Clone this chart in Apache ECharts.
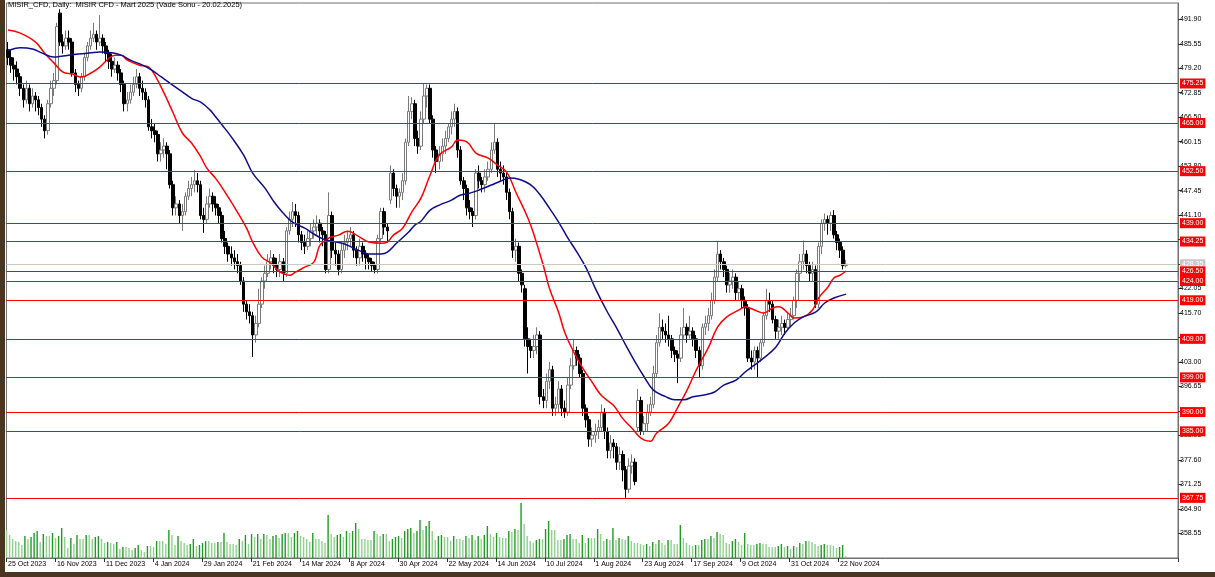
<!DOCTYPE html>
<html>
<head>
<meta charset="utf-8">
<script src="https://cdn.jsdelivr.net/npm/echarts@6/dist/echarts.min.js"></script>
<style>
  html, body { margin: 0; padding: 0; width: 1215px; height: 577px; overflow: hidden; background: #4a3520; }
  #chart { position: absolute; left: 5px; top: 0; width: 1210px; height: 572px; background: #fff; }
</style>
</head>
<body>
<div id="chart"></div>
<script>
// --- data (daily bars 25 Oct 2023 .. 26 Nov 2024)
const titleText = 'MISIR_CFD, Daily:  MISIR CFD - Mart 2025 (Vade Sonu - 20.02.2025)';

const dateTicks = ['25 Oct 2023', '16 Nov 2023', '11 Dec 2023', '4 Jan 2024', '29 Jan 2024', '21 Feb 2024',
  '14 Mar 2024', '8 Apr 2024', '30 Apr 2024', '22 May 2024', '14 Jun 2024', '10 Jul 2024', '1 Aug 2024',
  '23 Aug 2024', '17 Sep 2024', '9 Oct 2024', '31 Oct 2024', '22 Nov 2024'];
const barsPerTick = 16;

const priceTicks = [491.90, 485.55, 479.20, 472.85, 466.50, 460.15, 453.80, 447.45, 441.10, 434.75, 428.40,
  422.05, 415.70, 409.35, 403.00, 396.65, 390.30, 383.95, 377.60, 371.25, 364.90, 358.55];

const levels = [475.25, 465.00, 452.50, 439.00, 434.25, 426.50, 424.00, 419.00, 409.00, 399.00, 390.00, 385.00, 367.75];
const lastPrice = 428.35;

const opens = [
  484,482,480,479,477,474,471,474,470,472, 471,469,466,463,470,474,476,493.5,486,485,
  487,486,478,475,474,477,482,485,487,488, 486,487,485,483,481,479,480,478,475,470,
  471,473,475,477,474,473,471,464,463,462, 457,458,459,457,449,443,444,441,442,446,
  448,449,450,449,441,440,444,446,444,443, 441,435,433,431,430,429,428,424,418,416,
  415,410,413,418,424,426,429,430,428,427, 429,426,437,440,442,441,436,434,433,435,
  437,438,439,437,436,427,441,432,431,427, 432,434,435,436,432,430,433,431,430,429,
  428,427,435,442,438,445,452,448,446,447, 450,460,468,470,461,459,466,472,474,466,
  458,455,457,459,461,464,466,468,458,450, 448,443,442,441,452,450,449,451,453,458,
  460,453,452,451,447,442,432,433,426,422, 409,407,406,407,410,394,393,398,401,391,
  392,396,391,390,397,402,406,404,400,391, 388,383,384,385,386,390,385,380,382,381,
  377,379,375,370,376,377,386,393,385,387, 390,392,400,408,412,411,410,409,406,405,
  404,410,412,410,411,409,406,402,412,413, 415,419,425,431,429,427,423,424,425,421,
  422,419,417,404,403,406,404,408,415,419, 418,414,411,412,413,412,414,415,419,426,
  429,431,428,426,427,418,433,439,440,439, 441,436,434,432,428
];
const closes = [
  482,480,479,477,474,471,474,470,472,471, 469,466,463,470,474,476,490,486,485,487,
  486,478,475,474,477,482,485,487,488,486, 487,485,483,481,479,480,478,475,470,471,
  473,475,477,474,473,471,464,463,462,457, 458,459,457,449,443,444,441,442,446,448,
  449,450,449,441,440,444,446,444,443,441, 435,433,431,430,429,428,424,418,416,415,
  410,413,418,424,426,429,430,428,427,429, 426,437,440,442,441,436,434,433,435,437,
  438,439,437,436,427,441,432,431,427,432, 434,435,436,432,430,433,431,430,429,428,
  427,435,442,438,437,452,448,446,447,450, 460,468,470,461,459,466,472,474,466,458,
  455,457,459,461,464,466,468,458,450,448, 443,442,441,452,450,449,451,453,458,460,
  453,452,451,447,442,432,433,426,423,409, 407,406,407,410,394,393,398,401,391,392,
  396,391,390,397,402,406,404,400,391,388, 383,384,385,386,390,385,380,382,381,377,
  379,375,370,376,377,372,393,385,387,390, 392,400,408,412,411,410,409,406,405,404,
  410,412,410,411,409,406,402,412,413,415, 419,425,431,429,427,423,424,425,421,422,
  419,417,404,403,406,404,408,415,419,418, 414,411,412,413,412,414,415,419,426,429,
  431,428,426,427,418,433,439,440,439,441, 436,434,432,428,428.35
];
const highs = [
  486,484,482,481,478,475,476,475,474,473, 472,470,467,471,476,478,491,494.5,488,489,
  489,487,479,476,478,483,486,489,491,489, 493,488,486,484,483,482,481,479,476,473,
  475,477,479,478,476,474,472,466,465,463, 460,461,460,458,450,446,445,444,447,450,
  451,452.8,452,450,443,446,448,447,446,444, 442,437,434,433,432,431,429,425,419,418,
  416,415,422,425,428,431,432,431,430,431, 430,438,442,444.5,444,442,437,436,437,439,
  440,441,440,438,437,447,442,434,432,434, 436,437,438,437,433,435,434,432,431,430,
  429,436,443,443,439,454,453,449,448,452, 461,472,471.7,471,463,468,475.3,475,475,467,
  459,459,461,463,465,468,470,469,459,451, 449,445,443,453,454,451,453,455,460,465,
  461,455,454,452,448,443,435,434,427,423, 412,409,410,412,411,396,400,403,402,394,
  398,397,393,399,404,409,407,405,401,392, 389,386,387,388,392,391,386,384,383,382,
  381,380,376,378,379,378,396,394,389,392, 394,402,410,415.6,414,413,415,410,407,406,
  412,417,413,415,412,410,407,413,415,417, 421,427,434.3,432,430,428,426,427,426,424,
  423,420,418,406,407,407,409,416,422,421, 419,415,414,415,414,416,417,420,427,431,
  434.5,432,429,429,428,434,440,441.5,441,442, 442.4,437,435,433,429.5
];
const lows = [
  480,478,476,475,472,469,470,468,469,468, 467,464,461,462,469,472,475,485,483,484,
  484,477,473,472,473,476,481,484,486,484, 485,483,481,479,477,478,476,473,468,468,
  470,472,474,472,471,469,463,461,460,455, 455,456,453,448,441,441,439,437,441,445,
  446,447,447,440,436.5,439,443,442,441,439, 434,431,429,428,427,426,423,416,414,413,
  404.3,408,412,417,422,425,427,426,425,425, 424,425,436,438,438,434,432,431,432,433,
  435,436,434,433,426,426,430,428,425.5,426, 430,432,433,430,428,428,429,427,427,426.5,
  426,426,434,436,434,444,446,443,443,445, 449,459,466,459,457,458,465,469,465,456,
  452,453,455,457,460,462,464,456,449,445, 441,440,438,440,448,447,447,450,452,457,
  451,450,449,445,440,430,429,424,421,407, 400,404,404,405,392,391,391,396,389,389,
  390,389,388.5,389,396,401,402,399,389,386, 381,381,382,383,385,383,378,378,378,375,
  375,372,367.75,369,374,371,385,384,384,385, 389,391,399,407,409,408,407,404,403,397.5,
  403,409,408,409,407,404,399,401,410,411, 414,418,424,427,425,421,421,422,419,419,
  417,415,403,401,401,399,403,407,414,416, 413,409,409,410,410,411,412,414,417,424,
  427,426,424,424,417,417,431,437,436,437, 435,432,430,427,427.5
];
const volumes = [
  28,23,19,17,16,13,22,19,21,25, 27,16,24,22,22,25,20,22,30,21,
  10,20,14,23,19,19,23,23,19,21, 22,19,15,16,15,14,16,9,11,11,
  10,8,10,13,8,6,12,12,11,17, 17,17,14,28,23,13,22,17,15,13,
  14,19,12,13,15,17,17,15,15,16, 16,25,16,14,14,13,19,17,23,14,
  24,21,24,19,24,23,19,22,23,20, 24,25,25,21,25,27,22,21,19,16,
  25,19,19,17,15,43,24,21,23,24, 21,27,25,27,35,29,19,19,18,18,
  27,24,22,24,24,17,19,21,22,20, 27,29,30,25,27,38,28,32,37,27,
  18,22,23,21,21,17,22,19,19,18, 22,20,23,18,22,19,23,32,24,21,
  25,21,20,20,27,26,29,28,55,34, 22,17,15,18,19,19,29,37,28,28,
  18,18,19,23,24,19,19,15,23,15, 20,20,20,29,24,17,19,18,30,18,
  20,19,18,22,17,15,15,14,13,14, 12,16,14,18,15,13,18,18,14,14,
  33,20,15,13,12,13,13,18,19,19, 22,20,26,24,23,15,14,17,19,16,
  13,25,14,13,13,14,15,14,14,11, 11,11,12,14,11,12,9,12,11,15,
  14,17,17,16,14,12,13,14,13,13, 12,10,11,13,2
];

// moving averages, read as [bar, price]
const redMa = [[0,489.1],[4,488.3],[9,486],[12,483.1],[15,480.6],[18,478.2],[21,477.7],[24,476.9],[27,477.9],
  [30,479.5],[33,481.8],[35,482.6],[37,482.6],[39,481.3],[43,480],[46,479.5],[48,477.4],[51,472.8],[54,467.6],
  [57,462.4],[60,459.8],[63,456.2],[65,453.3],[68,450.5],[71,447],[75,441.9],[78,437.7],[80,434.1],[83,430.2],
  [86,428.6],[89,426.3],[92,425.5],[94,426.3],[97,427.6],[100,428.9],[102,433.3],[105,435.2],[108,435.9],
  [111,436.9],[115,435.4],[118,434.1],[122,433.8],[124,434.1],[126,435.9],[129,437.7],[132,441.9],[135,445.5],
  [138,451.5],[141,456.7],[145,458.8],[147,460.6],[150,460.1],[153,457.2],[157,455.9],[160,454.1],[163,452.3],
  [166,447.1],[170,440.3],[172,435.9],[175,428.1],[177,422.1],[180,415.9],[182,410.7],[185,405.5],[188,401.3],
  [191,397.7],[194,394.3],[198,391.7],[201,388.3],[204,385.8],[207,383.2],[210,382.4],[212,384.5],[216,387.1],
  [219,391.3],[222,395.7],[225,400.9],[229,406.8],[232,412.1],[235,414.7],[239,416.5],[241,417.3],[244,416.5],
  [247,415.7],[250,417],[252,417.3],[255,415.7],[257,414.4],[260,414.7],[263,416.5],[265,419.6],[268,422.4],
  [270,424.8],[272,425.5],[274,426.6]];
const blueMa = [[0,483.7],[4,484.5],[8,484.2],[11,483.2],[15,482.1],[18,482.4],[23,482.9],[27,483.2],[30,483.4],
  [34,483.2],[37,482.6],[40,481.3],[44,480],[47,478.7],[50,477],[53,475.3],[57,473.1],[60,471.4],[63,470.4],
  [66,468.4],[68,466.5],[70,464.5],[73,461.4],[77,456.7],[80,452],[84,448.1],[87,444.5],[90,441.6],[93,439.3],
  [97,437.7],[100,436.2],[103,434.9],[106,434.3],[110,433.6],[113,432.5],[116,431.5],[118,431],[122,431],
  [124,431.5],[127,433.8],[131,436.7],[133,438.5],[135,439.5],[138,442.4],[141,443.7],[145,445],[148,446.3],
  [151,446.8],[154,447.6],[158,448.9],[161,449.9],[164,450.7],[167,450.4],[171,448.9],[174,446.3],[177,442.9],
  [180,439.3],[183,435.2],[186,431.5],[189,427.4],[192,422.1],[196,415.9],[199,411.8],[202,407.3],[205,403],
  [208,399.1],[211,395.7],[215,394],[218,393.2],[221,393.2],[224,394],[228,394.5],[231,395.2],[234,397],
  [238,398.3],[241,400.4],[244,402.2],[247,404],[251,406.8],[254,410.5],[257,413.1],[260,414.7],[264,415.9],
  [267,418.3],[270,419.6],[274,420.6]];

// --- chart
const FONT = '"Liberation Sans", "DejaVu Sans", sans-serif';
const SLOTS = 383; // bars + empty shift area on the right
const slots = Array.from({ length: SLOTS }, (_, i) => String(i));
const isTick = (i) => i % barsPerTick === 0 && i / barsPerTick < dateTicks.length;

const candles = closes.map((c, i) => [opens[i], c, lows[i], highs[i]]);
const volData = volumes.map((v, i) => ({
  value: v,
  itemStyle: { color: i > 0 && v > volumes[i - 1] ? '#229b22' : '#8fd18f' }
}));

// horizontal price levels across the whole window, price tag on the axis
const labelBase = { show: true, position: 'end', distance: 2, fontSize: 7, fontFamily: FONT, color: '#fff',
  padding: [2, 2, 1, 2], formatter: (p) => p.value.toFixed(2) };
const lineData = [
  { yAxis: lastPrice, lineStyle: { color: '#c8c8c8', width: 1, type: 'solid' },
    label: Object.assign({}, labelBase, { backgroundColor: '#c8c8c8' }) }
].concat(levels.map((v) => ({
  yAxis: v, lineStyle: { color: '#ff0000', width: 1, type: 'solid' },
  label: Object.assign({}, labelBase, { backgroundColor: '#ff0000' })
})));

const chart = echarts.init(document.getElementById('chart'));
chart.setOption({
  animation: false,
  graphic: [{
    type: 'text', left: 3, top: 1, z: 10,
    style: { text: titleText, fill: '#000', fontSize: 7.5, fontFamily: FONT }
  }],
  grid: [
    { left: 0, right: 37, top: 3, bottom: 14, show: true, borderColor: '#707070', borderWidth: 1 },
    { left: 0, right: 37, top: 3, bottom: 14, show: false }
  ],
  xAxis: [
    {
      type: 'category', data: slots, gridIndex: 0,
      axisLine: { show: true, lineStyle: { color: '#707070' } },
      axisTick: { show: true, interval: isTick, length: 4, lineStyle: { color: '#333' } },
      axisLabel: {
        interval: isTick, formatter: (v, i) => dateTicks[i / barsPerTick] || '',
        align: 'left', fontSize: 7, color: '#000', margin: 3, fontFamily: FONT
      },
      splitLine: { show: false }
    },
    { type: 'category', data: slots, gridIndex: 1, show: false }
  ],
  yAxis: [
    {
      type: 'value', gridIndex: 0, position: 'right', min: 352.14, max: 496.13,
      axisLine: { show: true, lineStyle: { color: '#707070' } },
      axisTick: { show: true, length: 4, lineStyle: { color: '#333' }, customValues: priceTicks },
      axisLabel: { customValues: priceTicks, formatter: (v) => v.toFixed(2), fontSize: 7,
        color: '#000', margin: 2, fontFamily: FONT },
      splitLine: { show: false }
    },
    { type: 'value', gridIndex: 1, min: 0, max: 555, show: false }
  ],
  series: [
    {
      name: 'Volumes', type: 'bar', xAxisIndex: 1, yAxisIndex: 1, data: volData,
      barWidth: 1.4, z: 1, silent: true
    },
    {
      name: 'Levels', type: 'line', data: [], z: 2, silent: true,
      markLine: { silent: true, symbol: ['none', 'none'], data: lineData, emphasis: { disabled: true } }
    },
    {
      name: 'MISIR_CFD', type: 'candlestick', data: candles, barWidth: 3, z: 3,
      itemStyle: { color: '#ffffff', color0: '#000000', borderColor: '#7a7a7a', borderColor0: '#000000', borderWidth: 1 }
    },
    {
      name: 'MA fast', type: 'line', data: redMa, showSymbol: false, smooth: 0.4, z: 4,
      lineStyle: { color: '#ff0000', width: 1.5 }
    },
    {
      name: 'MA slow', type: 'line', data: blueMa, showSymbol: false, smooth: 0.4, z: 4,
      lineStyle: { color: '#0d0d8c', width: 1.5 }
    }
  ]
});
</script>
</body>
</html>
